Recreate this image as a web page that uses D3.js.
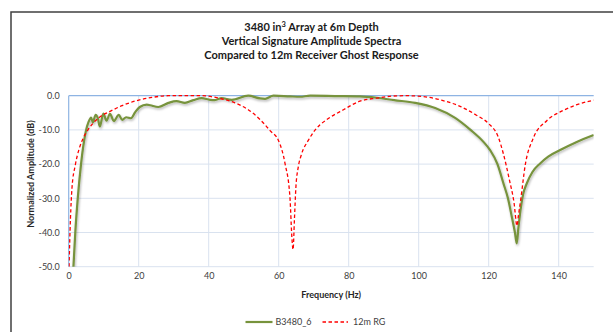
<!DOCTYPE html>
<html>
<head>
<meta charset="utf-8">
<script src="https://cdn.jsdelivr.net/npm/d3@7"></script>
<style>
  body { margin: 0; background: white; }
  svg { display: block; font-family: Lato, "Open Sans", sans-serif; }
</style>
</head>
<body>
<div id="vis"></div>
<script>
// chart data
let titleLines = ["Array at 6m Depth", "Vertical Signature Amplitude Spectra", "Compared to 12m Receiver Ghost Response"];
let xTicks = [0, 20, 40, 60, 80, 100, 120, 140];
let yTicks = [0, -10, -20, -30, -40, -50];
let seriesNames = ["B3480_6", "12m RG"];

// B3480_6 : frequency (Hz) / amplitude (dB)
let sigFreq = [1.3, 1.9, 2.6, 3.5, 4.9, 5.7, 6.4, 6.9, 7.7, 8.3, 8.9, 9.9, 10.8, 11.8, 12.9, 14.3, 15.3, 16.4, 17.8, 19.0, 20.3,
  22.3, 23.3, 25.6, 28.5, 30.8, 33.2, 35.6, 38.0, 40.4, 41.8, 43.7, 46.6, 51.3, 54.7, 56.1, 58.5, 63.2, 66.1, 69.0, 76.0,
  83.2, 88.0, 93.0, 99.0, 104.7, 110.4, 114.8, 118.5, 120.4, 122.5, 124.2, 125.5, 126.6, 127.5, 128.0, 128.5, 129.1,
  129.8, 130.9, 132.5, 134.7, 137.0, 140.4, 145.0, 150.0];
let sigDb = [-51, -39.7, -29.9, -20.2, -10.4, -7.6, -6.4, -7.8, -5.6, -6.5, -9.0, -5.2, -7.3, -5.3, -7.4, -5.6, -7.1, -6.3, -6.6, -4.8, -3.3,
  -2.6, -2.8, -3.3, -2.1, -1.6, -2.1, -1.3, -0.7, -1.2, -1.3, -0.7, -1.2, 0.0, -0.8, -0.9, 0.0, -0.2, -0.3, 0.0, -0.1,
  -0.2, -0.6, -1.3, -2.1, -3.6, -6.5, -10.0, -13.5, -15.9, -20.0, -25.6, -30.0, -35.4, -40.0, -43.2, -38.5, -33.4,
  -29.0, -25.6, -22.3, -19.8, -17.8, -15.9, -13.6, -11.5];

// 12m RG : frequency (Hz) / amplitude (dB)
let rgFreq = [0.1, 0.5, 0.94, 1.9, 3.0, 4.2, 5.5, 7.0, 8.9, 11.8, 15.0, 18.9, 23.8, 28.5, 32.0, 38.0, 42.8, 47.5, 51.3,
  54.7, 56.1, 57.6, 59.9, 61.8, 63.2, 63.8, 64.1, 64.5, 64.9, 65.6, 66.4, 68.5, 70.2, 71.8, 73.7, 78.5, 83.2, 88.0,
  92.7, 96.5, 100.9, 106.5, 112.0, 116.5, 119.9, 122.7, 124.2, 126.0, 127.2, 128.1, 128.5, 129.2, 130.4, 132.7,
  136.6, 141.3, 145.0, 150.0];
let rgDb = [-50, -36, -27, -20.2, -15.5, -12.3, -10.0, -8.0, -6.2, -4.6, -3.0, -1.6, -0.5, 0.0, 0.0, 0.0, -0.7, -2.1, -4.1,
  -7.0, -8.5, -10.3, -13.0, -19.8, -29.5, -42.0, -45.0, -36.0, -27.0, -20.8, -17.5, -13.0, -10.3, -8.5, -7.0, -4.1, -1.6, -0.7,
  -0.1, 0.0, -0.2, -1.3, -3.2, -5.7, -8.1, -12.0, -17.0, -25.0, -31.0, -38.0, -35.0, -30.0, -20.5, -12.5,
  -7.3, -4.3, -2.7, -1.3];

let sigData = sigFreq.map((f, i) => ({ f: f, v: sigDb[i] }));
let rgData = rgFreq.map((f, i) => ({ f: f, v: rgDb[i] }));

let W = 613, H = 332;
let plot = { left: 68.7, right: 593.7, top: 95.7, bottom: 266.7 };

let svg = d3.select('#vis')
  .append('svg')
  .attr('width', W)
  .attr('height', H);

// outer chart frame (cropped on right / bottom)
svg.append('rect')
  .attr('x', 11).attr('y', 12)
  .attr('width', 700).attr('height', 400)
  .attr('fill', 'white')
  .attr('stroke', '#404040')
  .attr('stroke-width', 1.5);

let x = d3.scaleLinear().domain([0, 150]).range([plot.left, plot.right]);
let y = d3.scaleLinear().domain([-50, 0]).range([plot.bottom, plot.top]);

// gridlines
svg.append('g')
  .selectAll('line.h')
  .data(yTicks.filter(d => d !== 0))
  .join('line')
  .attr('x1', plot.left).attr('x2', plot.right)
  .attr('y1', d => y(d)).attr('y2', d => y(d))
  .attr('stroke', '#d9e2ef')
  .attr('stroke-width', 1);

svg.append('g')
  .selectAll('line.v')
  .data(xTicks.filter(d => d !== 0))
  .join('line')
  .attr('x1', d => x(d)).attr('x2', d => x(d))
  .attr('y1', plot.top).attr('y2', plot.bottom)
  .attr('stroke', '#d9e2ef')
  .attr('stroke-width', 1);

// axis lines (horizontal axis crosses at 0 dB, on top)
svg.append('line')
  .attr('x1', plot.left).attr('x2', plot.right)
  .attr('y1', y(0)).attr('y2', y(0))
  .attr('stroke', '#8eb4e3').attr('stroke-width', 1.2);
svg.append('line')
  .attr('x1', plot.left).attr('x2', plot.left)
  .attr('y1', plot.top).attr('y2', plot.bottom)
  .attr('stroke', '#8eb4e3').attr('stroke-width', 1.2);

// tick labels
let yAxis = svg.append('g')
  .attr('transform', `translate(${plot.left - 9}, 0)`)
  .call(d3.axisLeft(y).tickValues(yTicks).tickSize(0).tickFormat(d => d.toFixed(1)));
yAxis.select('.domain').remove();
yAxis.selectAll('text')
  .attr('x', 0)
  .style('font-family', 'Lato, sans-serif')
  .style('font-size', '9px')
  .attr('fill', '#404040');

let xAxis = svg.append('g')
  .attr('transform', `translate(0, ${plot.bottom + 6})`)
  .call(d3.axisBottom(x).tickValues(xTicks).tickSize(0).tickFormat(d => String(d)));
xAxis.select('.domain').remove();
xAxis.selectAll('text')
  .attr('y', 0)
  .attr('dy', '0.71em')
  .style('font-family', 'Lato, sans-serif')
  .style('font-size', '9px')
  .attr('fill', '#404040');

// axis titles
svg.append('text')
  .attr('x', (plot.left + plot.right) / 2)
  .attr('y', 297.5)
  .attr('text-anchor', 'middle')
  .style('font-size', '9px')
  .style('font-weight', 'bold')
  .attr('fill', '#262626')
  .text('Frequency (Hz)');

svg.append('text')
  .attr('transform', 'translate(33.5, 174) rotate(-90)')
  .attr('text-anchor', 'middle')
  .style('font-size', '9px')
  .style('font-weight', 'bold')
  .attr('fill', '#262626')
  .text('Normalized Amplitude (dB)');

// chart title
let title = svg.append('text')
  .attr('text-anchor', 'middle')
  .style('font-size', '11px')
  .style('font-weight', 'bold')
  .attr('fill', '#1a1a1a');
let t0 = title.append('tspan').attr('x', 311.5).attr('y', 30.5);
t0.append('tspan').text('3480 in');
t0.append('tspan').attr('dy', -4).style('font-size', '7.5px').text('3');
t0.append('tspan').attr('dy', 4).text(' ' + titleLines[0]);
title.append('tspan').attr('x', 311.5).attr('y', 44.5).text(titleLines[1]);
title.append('tspan').attr('x', 311.5).attr('y', 58.5).text(titleLines[2]);

// clip + lines
let defs = svg.append('defs');
defs.append('clipPath').attr('id', 'plotclip')
  .append('rect')
  .attr('x', plot.left).attr('y', plot.top - 3)
  .attr('width', plot.right - plot.left).attr('height', plot.bottom - plot.top + 3);
let shadow = defs.append('filter').attr('id', 'shadow')
  .attr('x', '-5%').attr('y', '-5%').attr('width', '110%').attr('height', '120%');
shadow.append('feDropShadow')
  .attr('dx', 0.8).attr('dy', 1.5).attr('stdDeviation', 1)
  .attr('flood-color', '#000').attr('flood-opacity', 0.3);

let line = d3.line()
  .x(d => x(d.f))
  .y(d => y(d.v))
  .curve(d3.curveMonotoneX);

let lines = svg.append('g').attr('clip-path', 'url(#plotclip)');

lines.append('path')
  .datum(sigData)
  .attr('d', line)
  .attr('fill', 'none')
  .attr('stroke', '#77933c')
  .attr('stroke-width', 2.2)
  .attr('filter', 'url(#shadow)');

lines.append('path')
  .datum(rgData)
  .attr('d', line)
  .attr('fill', 'none')
  .attr('stroke', '#ff0000')
  .attr('stroke-width', 1.3)
  .attr('stroke-dasharray', '3.5,2.5');

// legend
let legend = svg.append('g');
legend.append('line')
  .attr('x1', 245.5).attr('x2', 272.5).attr('y1', 322).attr('y2', 322)
  .attr('stroke', '#77933c').attr('stroke-width', 2.2);
legend.append('text')
  .attr('x', 275.5).attr('y', 325.2)
  .style('font-size', '9px').attr('fill', '#404040')
  .text(seriesNames[0]);
legend.append('line')
  .attr('x1', 322.5).attr('x2', 348).attr('y1', 322).attr('y2', 322)
  .attr('stroke', '#ff0000').attr('stroke-width', 1.3)
  .attr('stroke-dasharray', '3.5,2.5');
legend.append('text')
  .attr('x', 353).attr('y', 325.2)
  .style('font-size', '9px').attr('fill', '#404040')
  .text(seriesNames[1]);
</script>
</body>
</html>
